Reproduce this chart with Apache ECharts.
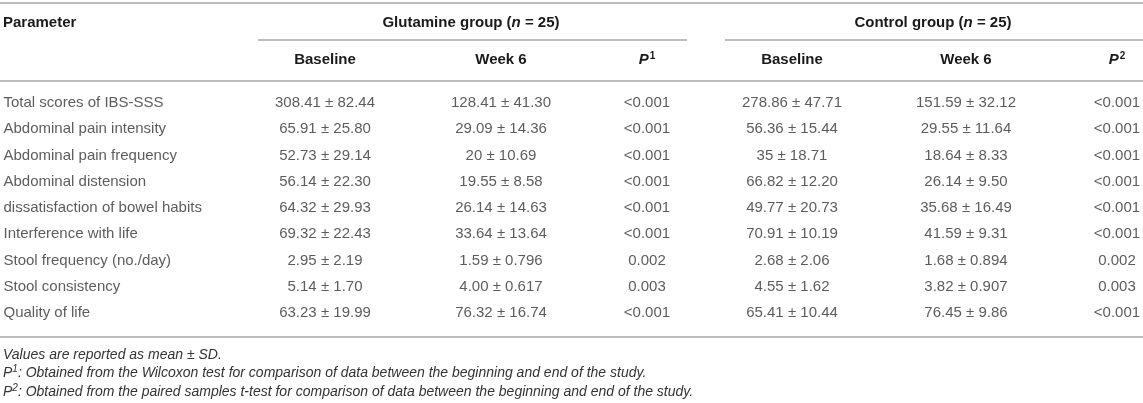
<!DOCTYPE html>
<html>
<head>
<meta charset="utf-8">
<title>Glutamine vs control</title>
<script src="https://cdn.jsdelivr.net/npm/echarts@6/dist/echarts.min.js"></script>
<style>
    html, body { margin: 0; padding: 0; background: #fff; }
    #table { width: 1143px; height: 403px; }
</style>
</head>
<body>
<div id="table"></div>
<script>
// 数据
var params = ['Total scores of IBS-SSS', 'Abdominal pain intensity', 'Abdominal pain frequency',
    'Abdominal distension', 'dissatisfaction of bowel habits', 'Interference with life',
    'Stool frequency (no./day)', 'Stool consistency', 'Quality of life'];
var gluBaseMean = ['308.41', '65.91', '52.73', '56.14', '64.32', '69.32', '2.95', '5.14', '63.23'];
var gluBaseSd = ['82.44', '25.80', '29.14', '22.30', '29.93', '22.43', '2.19', '1.70', '19.99'];
var gluWeekMean = ['128.41', '29.09', '20', '19.55', '26.14', '33.64', '1.59', '4.00', '76.32'];
var gluWeekSd = ['41.30', '14.36', '10.69', '8.58', '14.63', '13.64', '0.796', '0.617', '16.74'];
var gluP = ['<0.001', '<0.001', '<0.001', '<0.001', '<0.001', '<0.001', '0.002', '0.003', '<0.001'];
var ctlBaseMean = ['278.86', '56.36', '35', '66.82', '49.77', '70.91', '2.68', '4.55', '65.41'];
var ctlBaseSd = ['47.71', '15.44', '18.71', '12.20', '20.73', '10.19', '2.06', '1.62', '10.44'];
var ctlWeekMean = ['151.59', '29.55', '18.64', '26.14', '35.68', '41.59', '1.68', '3.82', '76.45'];
var ctlWeekSd = ['32.12', '11.64', '8.33', '9.50', '16.49', '9.31', '0.894', '0.907', '9.86'];
var ctlP = ['<0.001', '<0.001', '<0.001', '<0.001', '<0.001', '<0.001', '0.002', '0.003', '<0.001'];
var groupNames = ['Glutamine group', 'Control group'];
var groupN = [25, 25];
var subHeads = ['Baseline', 'Week 6'];
var notes = [
    'Values are reported as mean ± SD.',
    ': Obtained from the Wilcoxon test for comparison of data between the beginning and end of the study.',
    ': Obtained from the paired samples t-test for comparison of data between the beginning and end of the study.'
];

// 版式
var W = 1143;
var FONT = '"Liberation Sans", Arial, Helvetica, sans-serif';
var TXT = '#333';
var HEAD = '#1a1a1a';
var RULE = '#bdbdbd';
var colX = [325, 501, 647, 792, 966, 1117];
var groupX = [471, 933];
var groupLine = [[258, 687], [725, W]];

function pm(mean, sd) {
    return mean.map(function (m, i) { return m + ' ± ' + sd[i]; });
}

var columns = [
    pm(gluBaseMean, gluBaseSd), pm(gluWeekMean, gluWeekSd), gluP,
    pm(ctlBaseMean, ctlBaseSd), pm(ctlWeekMean, ctlWeekSd), ctlP
];

var chart = echarts.init(document.getElementById('table'), null, { renderer: 'canvas' });

var series = [{
    type: 'scatter',
    symbolSize: 1,
    itemStyle: { color: 'rgba(0,0,0,0)' },
    silent: true,
    data: params.map(function (p, i) { return [3, i]; }),
    label: {
        show: true,
        position: 'right',
        distance: 0,
        color: TXT,
        fontFamily: FONT,
        fontSize: 15,
        formatter: function (p) { return params[p.dataIndex]; }
    }
}];
columns.forEach(function (cells, c) {
    series.push({
        type: 'scatter',
        symbolSize: 1,
        itemStyle: { color: 'rgba(0,0,0,0)' },
        silent: true,
        data: cells.map(function (v, i) { return [colX[c], i]; }),
        label: {
            show: true,
            position: 'inside',
            color: TXT,
            fontFamily: FONT,
            fontSize: 15,
            formatter: function (p) { return cells[p.dataIndex]; }
        }
    });
});

function rule(x1, x2, y) {
    return {
        type: 'line',
        shape: { x1: x1, y1: y, x2: x2, y2: y },
        style: { stroke: RULE, lineWidth: 1.8 },
        silent: true
    };
}

function headText(x, y, text, align, rich) {
    return {
        type: 'text',
        x: x,
        y: y,
        silent: true,
        style: {
            text: text,
            align: align,
            verticalAlign: 'middle',
            fill: HEAD,
            font: 'bold 15px ' + FONT,
            rich: rich
        }
    };
}

var headRich = {
    b: { fontFamily: FONT, fontSize: 15, fontWeight: 'bold', color: HEAD },
    i: { fontFamily: FONT, fontSize: 15, fontWeight: 'bold', fontStyle: 'italic', color: HEAD },
    s: { fontFamily: FONT, fontSize: 10, fontWeight: 'bold', color: HEAD, padding: [0, 0, 7, 1] }
};
var noteRich = {
    n: { fontFamily: FONT, fontSize: 14, fontStyle: 'italic', color: TXT },
    s: { fontFamily: FONT, fontSize: 10, fontStyle: 'italic', color: TXT, padding: [0, 0, 7, 0] }
};

var graphics = [
    rule(0, W, 3),
    rule(groupLine[0][0], groupLine[0][1], 40),
    rule(groupLine[1][0], groupLine[1][1], 40),
    rule(0, W, 81),
    rule(0, W, 337),
    headText(3, 23, 'Parameter', 'left')
];
groupNames.forEach(function (g, k) {
    graphics.push(headText(groupX[k], 23,
        '{b|' + g + ' (}{i|n}{b| = ' + groupN[k] + ')}', 'center', headRich));
    subHeads.forEach(function (s, j) {
        graphics.push(headText(colX[k * 3 + j], 60, '{b|' + s + '}', 'center', headRich));
    });
    graphics.push(headText(colX[k * 3 + 2], 60, '{i|P}{s|' + (k + 1) + '}', 'center', headRich));
});
var noteY = [355, 373, 392];
notes.forEach(function (t, k) {
    var txt = k === 0 ? '{n|' + t + '}' : '{n|P}{s|' + k + '}{n|' + t + '}';
    graphics.push({
        type: 'text',
        x: 3,
        y: noteY[k],
        silent: true,
        style: {
            text: txt,
            align: 'left',
            verticalAlign: 'middle',
            fill: TXT,
            font: 'italic 14px ' + FONT,
            rich: noteRich
        }
    });
});

var option = {
    animation: false,
    backgroundColor: '#fff',
    grid: { left: 0, right: 0, top: 90, bottom: 77, containLabel: false },
    xAxis: { type: 'value', min: 0, max: W, show: false },
    yAxis: { type: 'category', data: params, inverse: true, show: false },
    graphic: graphics,
    series: series
};
chart.setOption(option);
</script>
</body>
</html>
